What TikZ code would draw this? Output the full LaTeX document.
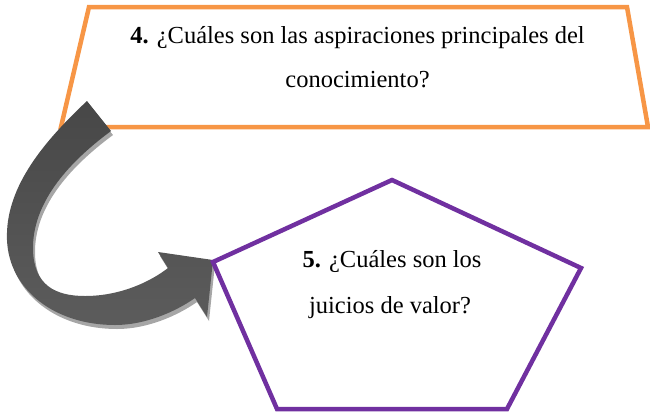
\documentclass[tikz,border=0pt]{standalone}
\usepackage{fontspec}
\setmainfont{Liberation Serif}
\definecolor{boxorange}{HTML}{F79646}
\definecolor{boxpurple}{HTML}{7030A0}
\definecolor{arrowshadow}{HTML}{A6A6A6}
\definecolor{arrowtop}{HTML}{474747}
\definecolor{arrowbottom}{HTML}{5C5C5C}
\newcommand{\curvedarrowpath}{%
  (87,101) .. controls (40,145) and (5,190) .. (7,240)
  .. controls (9,290) and (55,325) .. (115,325)
  .. controls (145,325) and (175,312) .. (195,298)
  -- (207,317) -- (213,260) -- (158,252) -- (168,268)
  .. controls (150,282) and (120,296) .. (85,296)
  .. controls (55,296) and (34,285) .. (33,250)
  .. controls (32,205) and (65,165) .. (111,131) -- cycle}
\begin{document}
\begin{tikzpicture}[x=1pt,y=-1pt,
  orangebox/.style={draw=boxorange,line width=4.5pt,fill=white,line join=miter},
  pentabox/.style={draw=boxpurple,line width=4.5pt,line join=miter},
  qtext/.style={font=\fontsize{24.5}{46}\selectfont,inner sep=0pt,anchor=base},
  arrowshade/.style={top color=arrowtop,bottom color=arrowbottom,draw=none},
  arrowshadowstyle/.style={fill=arrowshadow,draw=none}]
\useasboundingbox (0,0) rectangle (650,413);
% trapezoid
\coordinate (t1) at (89,7);
\coordinate (t2) at (627,7);
\coordinate (t3) at (648,127);
\coordinate (t4) at (61,127);
\draw[orangebox] (t1) -- (t2) -- (t3) -- (t4) -- cycle;
\node[qtext] (q4a) at (357.5,43) {\textbf{4.} ¿Cuáles son las aspiraciones principales del};
\node[qtext] (q4b) at (357.5,87) {conocimiento?};
% curved arrow with shadow
\begin{scope}[shift={(2,4)}]
  \path[arrowshadowstyle] \curvedarrowpath;
\end{scope}
\path[arrowshade] \curvedarrowpath;
% pentagon
\coordinate (p1) at (392,180);
\coordinate (p2) at (581,268);
\coordinate (p3) at (507,409);
\coordinate (p4) at (277,409);
\coordinate (p5) at (213,262);
\draw[pentabox] (p1) -- (p2) -- (p3) -- (p4) -- (p5) -- cycle;
\node[qtext] (q5a) at (392,267) {\textbf{5.} ¿Cuáles son los};
\node[qtext] (q5b) at (390,313) {juicios de valor?};
\end{tikzpicture}
\end{document}
